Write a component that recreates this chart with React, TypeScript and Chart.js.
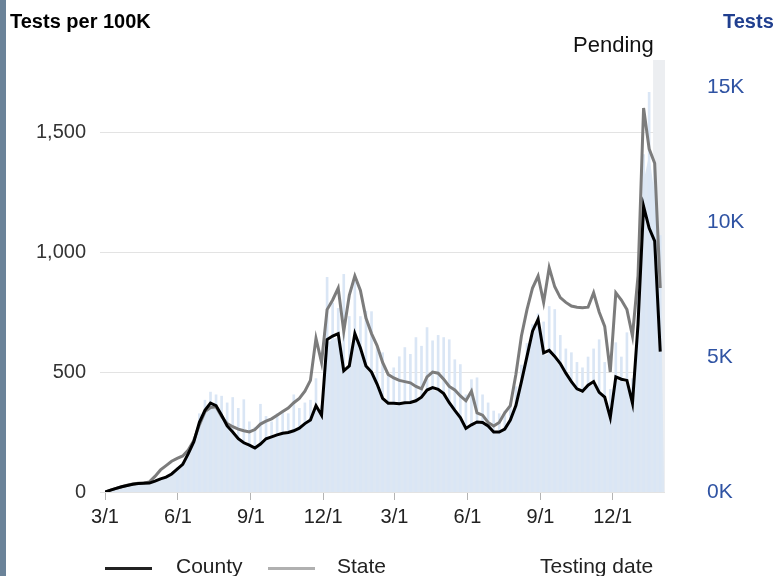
import React, { useEffect, useRef } from 'react';
import { Chart, registerables } from 'chart.js';

Chart.register(...registerables);

// Weekly samples, day offsets from 3/1/2020
const days: number[] = Array.from({ length: 101 }, (_, i) => i * 7);
const areaEndDay = 705;
const pendingStartDay = 691;

const tickDays = [0, 92, 184, 275, 365, 457, 549, 640];
const tickLabels = ['3/1', '6/1', '9/1', '12/1', '3/1', '6/1', '9/1', '12/1'];
const leftTicks = [0, 500, 1000, 1500];
const rightTicks = [0, 5000, 10000, 15000];
const rightTickLabels = ['0K', '5K', '10K', '15K'];

// Tests per 100K (7-day), county
const county = [
  0, 8, 15, 22, 27, 32, 35, 36, 37, 45,
  55, 62, 75, 95, 115, 160, 210, 290, 340, 370,
  360, 320, 275, 250, 222, 205, 195, 183, 200, 222,
  230, 238, 245, 248, 255, 266, 285, 300, 360, 320,
  635, 650, 660, 505, 525, 660, 600, 525, 500, 450,
  390, 370, 370, 368, 372, 373, 380, 395, 425, 435,
  428, 410, 372, 340, 310, 265, 280, 292, 290, 275,
  250, 250, 262, 300, 360, 460, 565, 670, 720, 580,
  590, 565, 535, 495, 460, 430, 420, 445, 460, 415,
  395, 310, 480, 470, 465, 370, 700, 1190, 1100, 1045,
  585,
];

// Tests per 100K (7-day), state
const state = [
  0, 8, 15, 22, 28, 33, 36, 38, 42, 65,
  92, 110, 128, 140, 150, 175, 215, 280, 335, 352,
  355, 315, 285, 272, 262, 255, 250, 260, 283, 295,
  305, 320, 335, 350, 372, 390, 420, 465, 640, 540,
  760, 800, 850, 670, 820, 900, 840, 725, 660, 610,
  540, 490, 475, 465, 460, 455, 440, 430, 480, 500,
  495, 470, 440, 425, 400, 380, 420, 330, 320, 290,
  275, 290, 330, 360, 490, 650, 760, 850, 900, 790,
  935, 855, 810, 790, 775, 770, 768, 770, 830, 750,
  690, 500, 830, 800, 760, 650, 900, 1600, 1430, 1370,
  850,
];

// County tests (area), last value at areaEndDay
const testsBase = [
  0, 70, 130, 190, 235, 280, 305, 315, 320, 390,
  480, 540, 650, 830, 1000, 1390, 1830, 2520, 2960, 3220,
  3130, 2780, 2390, 2180, 1930, 1780, 1700, 1590, 1740, 1930,
  2000, 2070, 2130, 2160, 2220, 2310, 2480, 2610, 3130, 2780,
  5520, 5660, 5740, 4390, 4570, 5740, 5220, 4570, 4350, 3920,
  3390, 3220, 3220, 3200, 3240, 3250, 3310, 3440, 3700, 3780,
  3720, 3570, 3240, 2960, 2700, 2310, 2440, 2540, 2520, 2390,
  2180, 2180, 2280, 2610, 3130, 4000, 4920, 5830, 6260, 5050,
  5130, 4920, 4650, 4310, 4000, 3740, 3650, 3870, 4000, 3610,
  3440, 2700, 4180, 4090, 4050, 3220, 6090, 11500, 12500, 11000,
  9000, 0,
];

// Daily test spikes
const testsDaily: (number | null)[] = [
  null, null, null, null, null, null, null, null, null, null,
  null, null, null, 900, 1100, 1500, 2000, 2900, 3400, 3700,
  3600, 3550, 3300, 3500, 3100, 3420, 2600, 2400, 3250, 2800,
  2600, 2900, 3000, 2900, 3600, 3100, 3300, 3400, 4200, 3200,
  7950, 7000, 6800, 8060, 6500, 7760, 6500, 6700, 6680, 5400,
  5160, 4300, 4600, 5010, 5350, 5100, 5720, 5400, 6090, 5600,
  5800, 5720, 5640, 4900, 4720, 3600, 4160, 4230, 3600, 3300,
  3000, 2900, 3000, 3300, 3900, 4700, 5500, 6200, 6600, 6300,
  6870, 6760, 5800, 5300, 5160, 4800, 4600, 5000, 5300, 5640,
  4800, 3800, 5530, 5000, 5900, 4200, 7500, 12500, 14800, 12000,
  9500,
];

const FONT = "'Liberation Sans', Arial, sans-serif";

const pendingPlugin = {
  id: 'pendingBand',
  beforeDatasetsDraw(chart: any) {
    const { ctx, chartArea, scales } = chart;
    const x0 = scales.x.getPixelForValue(pendingStartDay);
    ctx.save();
    ctx.fillStyle = '#eceef1';
    ctx.fillRect(x0, chartArea.top, chartArea.right - x0, chartArea.bottom - chartArea.top);
    ctx.restore();
  },
};

const label = (text: string, left: number, baseline: number, size: number, extra: any = {}) => (
  <div
    style={{
      position: 'absolute',
      left,
      top: baseline - size * 0.8465,
      fontFamily: FONT,
      fontSize: size,
      lineHeight: `${size}px`,
      whiteSpace: 'nowrap',
      color: '#111',
      ...extra,
    }}
  >
    {text}
  </div>
);

export default function App() {
  const ref = useRef<HTMLCanvasElement | null>(null);

  useEffect(() => {
    if (!ref.current) return;
    Chart.defaults.font.family = FONT;
    const chart = new Chart(ref.current, {
      type: 'line',
      data: {
        datasets: [
          {
            label: 'County',
            data: county.map((v, i) => ({ x: days[i], y: v })),
            borderColor: '#000000',
            borderWidth: 3,
            pointRadius: 0,
            tension: 0,
            yAxisID: 'y',
          },
          {
            label: 'State',
            data: state.map((v, i) => ({ x: days[i], y: v })),
            borderColor: '#7c7c7c',
            borderWidth: 3,
            pointRadius: 0,
            tension: 0,
            yAxisID: 'y',
          },
          {
            type: 'bar',
            label: 'Daily tests',
            data: testsDaily.map((v, i) => ({ x: days[i], y: v })),
            backgroundColor: '#dae6f5',
            borderWidth: 0,
            barThickness: 2,
            yAxisID: 'y1',
          } as any,
          {
            label: 'Tests',
            data: testsBase.map((v, i) => ({ x: i < days.length ? days[i] : areaEndDay, y: v })),
            borderWidth: 0,
            borderColor: 'rgba(0,0,0,0)',
            backgroundColor: '#dde7f3',
            fill: 'origin',
            pointRadius: 0,
            tension: 0,
            yAxisID: 'y1',
          },
        ],
      },
      options: {
        animation: false,
        responsive: false,
        maintainAspectRatio: false,
        layout: { padding: { top: 60, left: 0, right: 0, bottom: 0 } },
        plugins: { legend: { display: false }, tooltip: { enabled: false } },
        scales: {
          x: {
            type: 'linear',
            min: 0,
            max: 706,
            offset: false,
            afterBuildTicks: (s: any) => {
              s.ticks = tickDays.map((v) => ({ value: v }));
            },
            afterFit: (s: any) => {
              s.height = 84;
            },
            ticks: {
              autoSkip: false,
              maxRotation: 0,
              padding: 5,
              color: '#222',
              font: { size: 20, family: FONT },
              callback: (v: any) => tickLabels[tickDays.indexOf(Number(v))],
            },
            grid: { drawOnChartArea: false, offset: false, tickLength: 8, color: '#b4b4b4' },
            border: { display: false },
          },
          y: {
            position: 'left',
            min: 0,
            max: 1800,
            afterBuildTicks: (s: any) => {
              s.ticks = leftTicks.map((v) => ({ value: v }));
            },
            afterFit: (s: any) => {
              s.width = 105;
            },
            ticks: {
              padding: 14,
              color: '#333',
              font: { size: 20, family: FONT },
              callback: (v: any) => Number(v).toLocaleString('en-US'),
            },
            grid: { color: '#e3e3e3', tickLength: 5 },
            border: { display: false },
          },
          y1: {
            position: 'right',
            min: 0,
            max: 16000,
            afterBuildTicks: (s: any) => {
              s.ticks = rightTicks.map((v) => ({ value: v }));
            },
            afterFit: (s: any) => {
              s.width = 113;
            },
            ticks: {
              padding: 42,
              color: '#2f53a3',
              font: { size: 21, family: FONT },
              callback: (v: any) => rightTickLabels[rightTicks.indexOf(Number(v))],
            },
            grid: { display: false, drawTicks: false },
            border: { display: false },
          },
        },
      },
      plugins: [pendingPlugin],
    });
    return () => chart.destroy();
  }, []);

  return (
    <div
      style={{
        position: 'fixed',
        left: 0,
        top: 0,
        width: 778,
        height: 576,
        overflow: 'hidden',
        background: '#fff',
      }}
    >
      <canvas ref={ref} width={778} height={576} style={{ position: 'absolute', left: 0, top: 0, display: 'block' }} />
      <div style={{ position: 'absolute', left: 0, top: 0, width: 6, height: 576, background: '#6b8399' }} />
      {label('Tests per 100K', 10, 28, 20, { fontWeight: 'bold', color: '#000' })}
      {label('Tests', 723, 28, 20, { fontWeight: 'bold', color: '#203f8f' })}
      {label('Pending', 573, 53, 22)}
      <div style={{ position: 'absolute', left: 105, top: 567, width: 47, height: 3, background: '#222' }} />
      {label('County', 176, 573, 21, { color: '#222' })}
      <div style={{ position: 'absolute', left: 268, top: 567, width: 47, height: 3, background: '#b0b0b0' }} />
      {label('State', 337, 573, 21, { color: '#222' })}
      {label('Testing date', 540, 573, 21, { color: '#222' })}
    </div>
  );
}
